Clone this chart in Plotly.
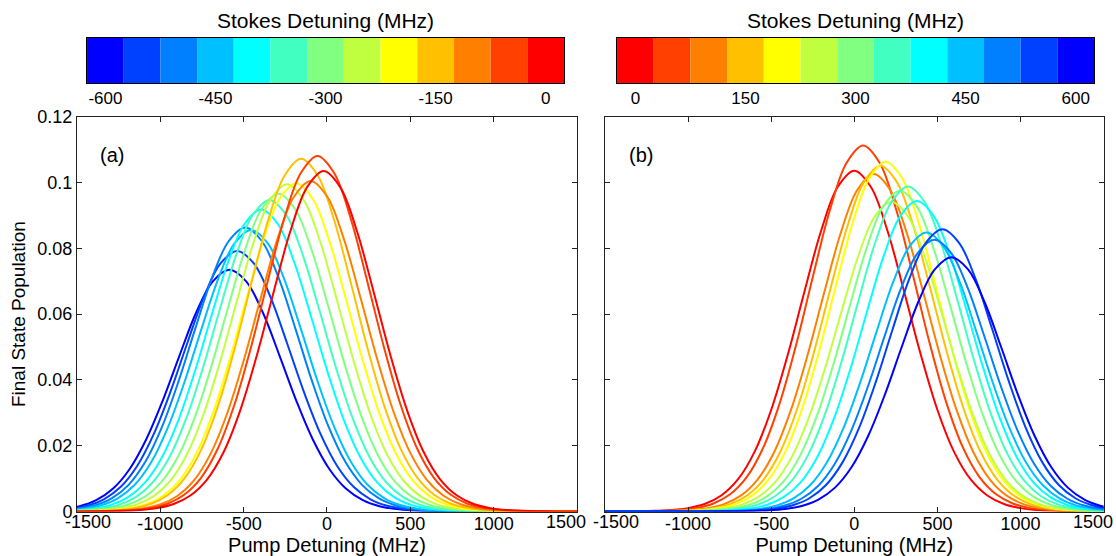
import plotly.graph_objects as go

# ---------------- data ----------------
STOKES_A = [-600, -550, -500, -450, -400, -350, -300, -250, -200, -150, -100, -50, 0]
CENTER_A = [-585, -539, -490, -455, -395, -345, -292, -240, -185, -155, -98, -57, -20]
HEIGHT_A = [0.0735, 0.0792, 0.0863, 0.0856, 0.0918, 0.0947, 0.0966, 0.0995, 0.0998,
            0.1072, 0.1005, 0.1081, 0.1035]

STOKES_B = [0, 50, 100, 150, 200, 250, 300, 350, 400, 450, 500, 550, 600]
CENTER_B = [0, 53, 117, 157, 189, 223, 275, 323, 377, 434, 482, 530, 584]
HEIGHT_B = [0.1036, 0.1113, 0.1026, 0.1051, 0.1063, 0.0942, 0.0975, 0.0988, 0.0944,
            0.0848, 0.0826, 0.0858, 0.0773]

# shared line shape (relative height vs. distance from the peak, MHz)
PROFILE_OFFSET = [0, 100, 200, 300, 400, 500, 600, 700, 800, 900, 1000, 1100,
                  1200, 1300, 1400, 1500, 1600, 1700, 1800, 1900, 2000, 2100, 2200]
PROFILE_REL = [1.000, 0.952, 0.823, 0.645, 0.460, 0.298, 0.175, 0.094, 0.047, 0.022,
               0.010, 0.0045, 0.002, 0.0009, 0.0004, 0.0002, 0.0001, 0.0, 0.0, 0.0,
               0.0, 0.0, 0.0]

JET13 = ["#0000FF", "#0040FF", "#0080FF", "#00C0FF", "#00FFFF", "#40FFC0", "#80FF80",
         "#C0FF40", "#FFFF00", "#FFC000", "#FF8000", "#FF4000", "#FF0000"]

X_TICKS = [-1500, -1000, -500, 0, 500, 1000, 1500]
X_TICK_TEXT = ["-1500", "-1000", "-500", "0", "500", "1000", "1500"]
Y_TICKS = [0, 0.02, 0.04, 0.06, 0.08, 0.10, 0.12]
Y_TICK_TEXT = ["0", "0.02", "0.04", "0.06", "0.08", "0.1", "0.12"]
CB_TICKS_A = [-600, -450, -300, -150, 0]
CB_TEXT_A = ["-600", "-450", "-300", "-150", "0"]
CB_TICKS_B = [0, 150, 300, 450, 600]
CB_TEXT_B = ["0", "150", "300", "450", "600"]

FONT = "Liberation Sans, Arial, Helvetica, sans-serif"
AXC = "#222222"
TICK_FS = 18
TITLE_FS = 20


def color_for(s):
    return JET13[12 - abs(s) // 50]


def curve(center, height):
    offs = [-o for o in reversed(PROFILE_OFFSET[1:])] + PROFILE_OFFSET
    rel = list(reversed(PROFILE_REL[1:])) + PROFILE_REL
    return [center + o for o in offs], [height * r for r in rel]


fig = go.Figure()

for s, c, h in zip(STOKES_A, CENTER_A, HEIGHT_A):
    xs, ys = curve(c, h)
    fig.add_trace(go.Scatter(x=xs, y=ys, mode="lines", xaxis="x", yaxis="y",
                             line=dict(color=color_for(s), width=2, shape="spline", smoothing=1),
                             showlegend=False, hoverinfo="skip"))

for s, c, h in zip(STOKES_B, CENTER_B, HEIGHT_B):
    xs, ys = curve(c, h)
    fig.add_trace(go.Scatter(x=xs, y=ys, mode="lines", xaxis="x2", yaxis="y2",
                             line=dict(color=color_for(s), width=2, shape="spline", smoothing=1),
                             showlegend=False, hoverinfo="skip"))

# colour bars drawn as bars
fig.add_trace(go.Bar(x=STOKES_A, y=[1] * len(STOKES_A), width=50, xaxis="x3", yaxis="y3",
                     marker=dict(color=[color_for(s) for s in STOKES_A], line=dict(width=0)),
                     showlegend=False, hoverinfo="skip"))
fig.add_trace(go.Bar(x=STOKES_B, y=[1] * len(STOKES_B), width=50, xaxis="x4", yaxis="y4",
                     marker=dict(color=[color_for(s) for s in STOKES_B], line=dict(width=0)),
                     showlegend=False, hoverinfo="skip"))

# interior tick labels on the axis; end labels (nudged inward as in the reference) as annotations
inner_text = [""] + X_TICK_TEXT[1:-1] + [""]

main_x = dict(range=[-1500, 1500], tickvals=X_TICKS, ticktext=inner_text,
              ticks="inside", ticklen=5, tickcolor=AXC, showline=True, linecolor=AXC,
              linewidth=1, mirror="allticks", showgrid=False, zeroline=False,
              automargin=False, ticklabelstandoff=-4,
              tickfont=dict(size=TICK_FS, color="black"),
              title=dict(text="Pump Detuning (MHz)", font=dict(size=TITLE_FS, color="black"),
                         standoff=4))
main_y = dict(range=[0, 0.12], tickvals=Y_TICKS, ticktext=Y_TICK_TEXT,
              ticks="inside", ticklen=5, tickcolor=AXC, showline=True, linecolor=AXC,
              linewidth=1, mirror="allticks", showgrid=False, zeroline=False,
              automargin=False, tickfont=dict(size=TICK_FS, color="black"))

cb_common = dict(ticks="", showline=True, mirror=True, linecolor="black", linewidth=1,
                 showgrid=False, zeroline=False, automargin=False,
                 tickfont=dict(size=17, color="black"))
cb_y = dict(range=[0, 1], showticklabels=False, ticks="", showline=True, mirror=True,
            linecolor="black", linewidth=1, showgrid=False, zeroline=False, automargin=False)

YD = [0.080, 0.790]
CBD = [0.8507, 0.9317]

annotations = [
    dict(text="Stokes Detuning (MHz)", xref="paper", yref="paper", x=0.2917, y=0.964,
         showarrow=False, font=dict(size=21, color="black"), xanchor="center", yanchor="middle"),
    dict(text="Stokes Detuning (MHz)", xref="paper", yref="paper", x=0.7666, y=0.964,
         showarrow=False, font=dict(size=21, color="black"), xanchor="center", yanchor="middle"),
    dict(text="(a)", xref="x", yref="y", x=-1290, y=0.1085, showarrow=False,
         font=dict(size=TITLE_FS, color="black"), xanchor="center", yanchor="middle"),
    dict(text="(b)", xref="x2", yref="y2", x=-1284, y=0.1085, showarrow=False,
         font=dict(size=TITLE_FS, color="black"), xanchor="center", yanchor="middle"),
]
for xr, yr in (("x", "y"), ("x2", "y2")):
    annotations.append(dict(text=X_TICK_TEXT[0], xref=xr, yref=yr, x=X_TICKS[0], y=0,
                            showarrow=False, xanchor="center", yanchor="top", xshift=11, yshift=2,
                            font=dict(size=TICK_FS, color="black")))
    annotations.append(dict(text=X_TICK_TEXT[-1], xref=xr, yref=yr, x=X_TICKS[-1], y=0,
                            showarrow=False, xanchor="center", yanchor="top", xshift=-11, yshift=2,
                            font=dict(size=TICK_FS, color="black")))

fig.update_layout(
    template="none",
    width=1116, height=556,
    margin=dict(l=0, r=0, t=0, b=0, autoexpand=False),
    paper_bgcolor="white", plot_bgcolor="white",
    font=dict(family=FONT, color="black"),
    showlegend=False,
    xaxis=dict(main_x, domain=[0.069, 0.517], anchor="y"),
    yaxis=dict(main_y, domain=YD, anchor="x",
               title=dict(text="Final State Population", font=dict(size=19, color="black"),
                          standoff=6)),
    xaxis2=dict(main_x, domain=[0.542, 0.989], anchor="y2"),
    yaxis2=dict(main_y, domain=YD, anchor="x2", showticklabels=False),
    xaxis3=dict(cb_common, domain=[0.078, 0.5054], anchor="y3", range=[-625, 25],
                tickvals=CB_TICKS_A, ticktext=CB_TEXT_A),
    yaxis3=dict(cb_y, domain=CBD, anchor="x3"),
    xaxis4=dict(cb_common, domain=[0.5529, 0.9803], anchor="y4", range=[-25, 625],
                tickvals=CB_TICKS_B, ticktext=CB_TEXT_B),
    yaxis4=dict(cb_y, domain=CBD, anchor="x4"),
    annotations=annotations,
)

fig.write_html("out.html", config={"displayModeBar": False},
               post_script="document.body.style.margin='0';")
